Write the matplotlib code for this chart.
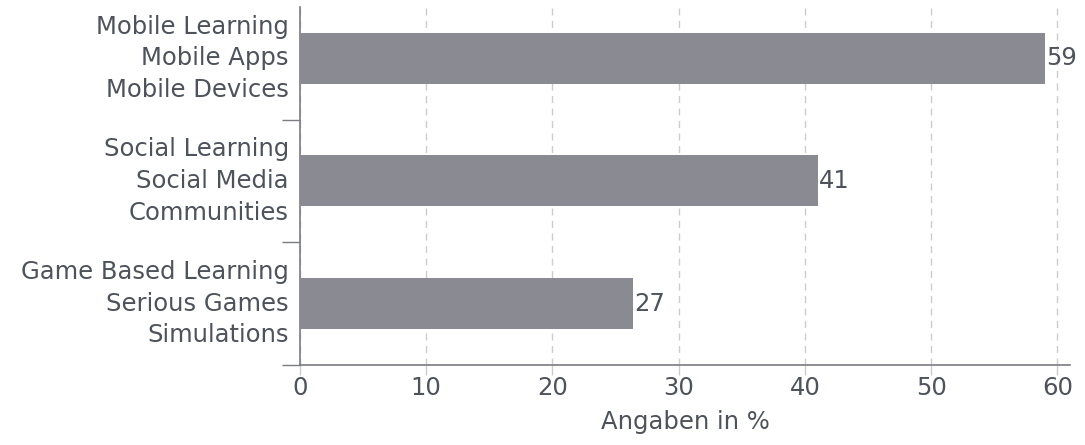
import matplotlib.pyplot as plt
from matplotlib.ticker import FixedLocator

categories = ['Game Based Learning\nSerious Games\nSimulations',
              'Social Learning\nSocial Media\nCommunities',
              'Mobile Learning\nMobile Apps\nMobile Devices']
values = [26.4, 41, 59]
value_labels = ['27', '41', '59']
xticks = [0, 10, 20, 30, 40, 50, 60]

text_color = '#4d525b'
bar_color = '#8a8a92'
axis_color = '#7a7c82'

plt.rcParams['font.family'] = ['DejaVu Sans']
fs = 17.5

fig = plt.figure(figsize=(10.85, 4.45), dpi=100)
ax = fig.add_axes([300 / 1085, (445 - 365) / 445, 770 / 1085, 358 / 445])

pos = list(range(len(categories)))
ax.barh(pos, values, height=0.415, color=bar_color, zorder=3)
for p, v, lab in zip(pos, values, value_labels):
    ax.text(v + 0.1, p, lab, va='center', ha='left', fontsize=fs, color=text_color, zorder=4)

ax.set_xlim(0, 61)
ax.set_ylim(-0.5, 2.417)
ax.set_xticks(xticks)
ax.set_yticks(pos)
ax.set_yticklabels(categories, linespacing=1.4, va='center')
ax.yaxis.set_minor_locator(FixedLocator([-0.5, 0.5, 1.5]))

ax.tick_params(axis='y', which='major', length=0, pad=8, labelsize=fs, labelcolor=text_color)
ax.tick_params(axis='y', which='minor', length=13, width=1, color=axis_color)
ax.tick_params(axis='x', which='major', length=7, width=1, color='#cccccc', pad=1,
               labelsize=fs, labelcolor=text_color)

ax.xaxis.grid(True, linestyle=(0, (5, 4)), color='#cccccc', linewidth=1, zorder=0)
for s in ['top', 'right']:
    ax.spines[s].set_visible(False)
for s in ['left', 'bottom']:
    ax.spines[s].set_color(axis_color)
    ax.spines[s].set_linewidth(1.2)

ax.set_xlabel('Angaben in %', fontsize=fs, color=text_color, labelpad=7)

fig.savefig('out.png', dpi=100)
